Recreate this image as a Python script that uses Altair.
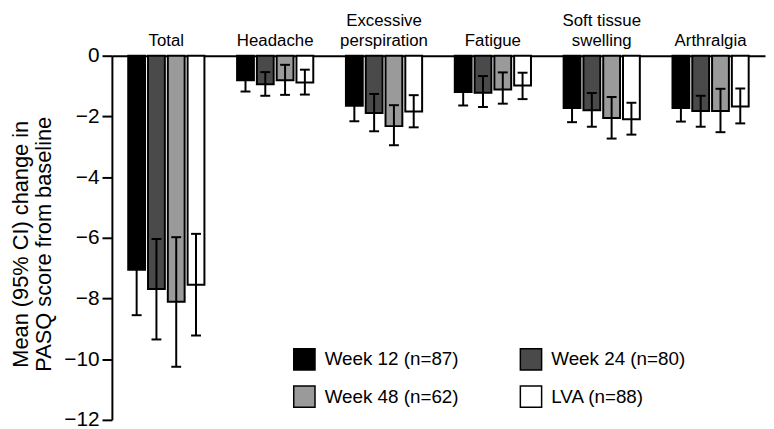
import altair as alt
import pandas as pd

categories = ["Total", "Headache", "Excessive perspiration", "Fatigue", "Soft tissue swelling", "Arthralgia"]
label_line1 = ["", "", "Excessive", "", "Soft tissue", ""]
label_line2 = ["Total", "Headache", "perspiration", "Fatigue", "swelling", "Arthralgia"]
series = ["Week 12 (n=87)", "Week 24 (n=80)", "Week 48 (n=62)", "LVA (n=88)"]
colors = ["#000000", "#4a4a4a", "#9a9a9a", "#ffffff"]

week12_mean = [-7.05, -0.81, -1.65, -1.20, -1.72, -1.72]
week12_lo = [-8.55, -1.18, -2.16, -1.64, -2.19, -2.17]
week12_hi = [-5.55, -0.44, -1.14, -0.76, -1.25, -1.27]

week24_mean = [-7.69, -0.94, -1.89, -1.22, -1.80, -1.82]
week24_lo = [-9.35, -1.32, -2.49, -1.69, -2.34, -2.34]
week24_hi = [-6.04, -0.54, -1.26, -0.67, -1.23, -1.32]

week48_mean = [-8.11, -0.81, -2.32, -1.11, -2.05, -1.82]
week48_lo = [-10.25, -1.29, -2.95, -1.58, -2.73, -2.52]
week48_hi = [-5.98, -0.30, -1.63, -0.55, -1.36, -1.09]

lva_mean = [-7.55, -0.88, -1.84, -0.98, -2.09, -1.67]
lva_lo = [-9.22, -1.28, -2.36, -1.43, -2.60, -2.23]
lva_hi = [-5.87, -0.46, -1.30, -0.56, -1.55, -1.08]

y_ticks = [-12, -10, -8, -6, -4, -2, 0]

table = [
    (series[0], week12_mean, week12_lo, week12_hi),
    (series[1], week24_mean, week24_lo, week24_hi),
    (series[2], week48_mean, week48_lo, week48_hi),
    (series[3], lva_mean, lva_lo, lva_hi),
]
rows = []
for name, means, los, his in table:
    for cat, m, lo, hi in zip(categories, means, los, his):
        rows.append({"category": cat, "series": name, "mean": m, "lo": lo, "hi": hi})
df = pd.DataFrame(rows)

labels_df = pd.DataFrame({"category": categories, "line1": label_line1, "line2": label_line2})

FONT = "Liberation Sans"

x_enc = alt.X(
    "category:N",
    sort=categories,
    scale=alt.Scale(paddingInner=0.3, paddingOuter=0.15),
    axis=alt.Axis(
        orient="top",
        title=None,
        labels=False,
        ticks=False,
        domain=True,
        domainColor="black",
        domainWidth=2,
    ),
)

base = alt.Chart(df).encode(
    x=x_enc,
    xOffset=alt.XOffset("series:N", sort=series, scale=alt.Scale(paddingInner=0.15)),
)

bars = base.mark_bar(stroke="black", strokeWidth=2).encode(
    y=alt.Y(
        "mean:Q",
        scale=alt.Scale(domain=[-12, 0], nice=False, zero=True),
        axis=alt.Axis(
            values=y_ticks,
            grid=False,
            tickSize=10,
            tickWidth=2,
            tickColor="black",
            domainColor="black",
            domainWidth=2,
            labelFontSize=21,
            labelColor="black",
            labelPadding=3,
            title=["Mean (95% CI) change in", "PASQ score from baseline"],
            titleFontSize=22,
            titleFontWeight="normal",
            titleColor="black",
            titleLineHeight=23,
            titleX=-80,
            titleY=190,
        ),
    ),
    color=alt.Color(
        "series:N",
        sort=series,
        scale=alt.Scale(domain=series, range=colors),
        legend=alt.Legend(
            title=None,
            orient="none",
            direction="horizontal",
            legendX=183,
            legendY=295,
            columns=2,
            columnPadding=58,
            rowPadding=9,
            symbolType="square",
            symbolSize=462,
            symbolStrokeColor="black",
            symbolStrokeWidth=1.5,
            symbolOpacity=1,
            labelFontSize=19,
            labelColor="black",
            labelOffset=9,
            padding=0,
        ),
    ),
)

rules = base.mark_rule(color="black", strokeWidth=2).encode(y="lo:Q", y2="hi:Q")
caps_lo = base.mark_tick(color="black", thickness=2, size=10, orient="horizontal", opacity=1).encode(y="lo:Q")
caps_hi = base.mark_tick(color="black", thickness=2, size=10, orient="horizontal", opacity=1).encode(y="hi:Q")

lab_base = alt.Chart(labels_df).encode(x=x_enc)
lab1 = lab_base.mark_text(fontSize=17, color="black", baseline="alphabetic", align="center").encode(
    y=alt.value(-30), text="line1:N"
)
lab2 = lab_base.mark_text(fontSize=17, color="black", baseline="alphabetic", align="center").encode(
    y=alt.value(-10), text="line2:N"
)

chart = (
    alt.layer(bars, rules, caps_lo, caps_hi, lab1, lab2)
    .properties(
        width=660,
        height=368,
        autosize=alt.AutoSizeParams(type="none"),
        padding={"left": 105, "top": 46, "right": 1, "bottom": 7},
    )
    .configure(font=FONT)
    .configure_view(stroke=None)
)

chart.save("out.html", embed_options={"renderer": "svg", "actions": False})
